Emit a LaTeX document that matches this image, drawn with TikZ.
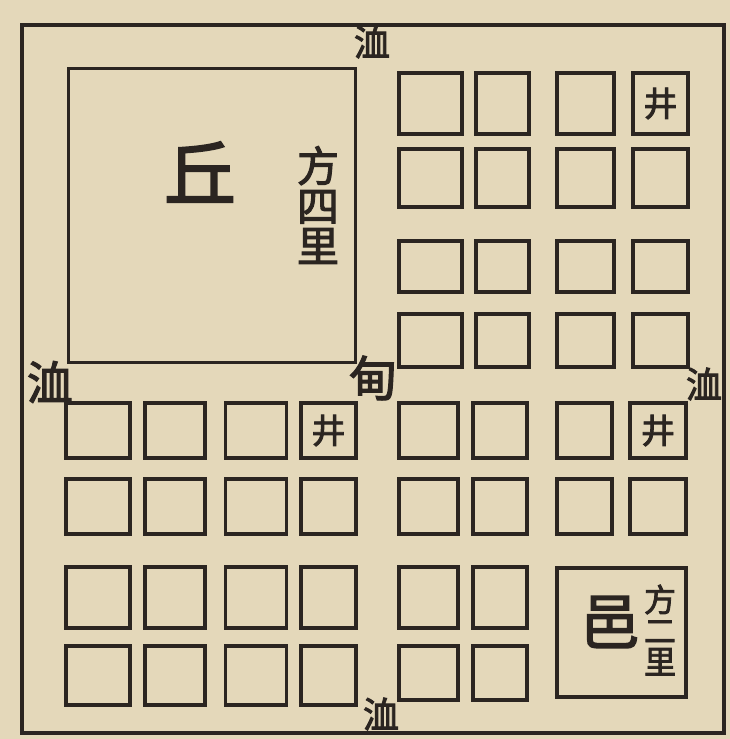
\documentclass[tikz,border=0pt]{standalone}
\usepackage{fontspec}
\newfontfamily\cjk[FakeBold=2.5]{Noto Sans CJK SC}
\usepackage{xcolor}
\usetikzlibrary{positioning}
\definecolor{paper}{HTML}{E4D8BA}
\definecolor{ink}{HTML}{2B2521}
\tikzstyle{plot} = [draw=ink,line width=3.3pt,rectangle,inner sep=0pt]
\tikzstyle{word} = [text=ink,inner sep=0pt,align=center]
\newcommand{\cjksize}[1]{\cjk\fontsize{#1}{#1}\selectfont}

\begin{document}
\begin{tikzpicture}[x=1pt,y=-1pt]
            % basics
            \fill[paper] (0,0) rectangle (730,739);
            \useasboundingbox (0,0) rectangle (730,739);
            \draw[ink,line width=3.2pt] (22,25) rectangle (724,733);
            % qiu and yi
            \node[plot,line width=3pt,minimum width=287pt,minimum height=294pt] (qiu) at (211.5,215) {};
            \node[plot,minimum width=129pt,minimum height=129pt] (yi) at (621.5,632.5) {};
            % upper right jing
            \foreach \c/\x/\w in {1/430.5/63,2/502.5/53,3/585.5/57,4/660.5/55}
              \foreach \r/\y/\h in {1/103.5/61,2/178/58,3/266.5/51,4/340.5/53}
                \node[plot,minimum width=\w pt,minimum height=\h pt] (u\r\c) at (\x,\y) {};
            % lower left jing
            \foreach \c/\x/\w in {1/98/64,2/175/60,3/256/61,4/328.5/55}
              \foreach \r/\y/\h in {1/430.5/55,2/506.5/55,3/597.5/61,4/675.5/59}
                \node[plot,minimum width=\w pt,minimum height=\h pt] (l\r\c) at (\x,\y) {};
            % lower right jing
            \foreach \c/\x/\w in {1/428.5/59,2/500/54,3/584.5/55,4/658/56}
              \foreach \r/\y/\h in {1/430.5/55,2/506.5/55}
                \node[plot,minimum width=\w pt,minimum height=\h pt] (r\r\c) at (\x,\y) {};
            \foreach \c/\x/\w in {1/428.5/59,2/500/54}
              \foreach \r/\y/\h in {3/597.5/61,4/673/54}
                \node[plot,minimum width=\w pt,minimum height=\h pt] (r\r\c) at (\x,\y) {};
            % labels
            \node[word,font=\cjksize{72}] (qiuname) at (200,172) {丘};
            \node[word,font=\cjksize{42}] (qiusize) at (318,205) {方\\[-2pt]四\\[-2pt]里};
            \node[word,font=\cjksize{60}] (yiname) at (610,622) {邑};
            \node[word,font=\cjksize{32}] (yisize) at (660,630) {方\\[-1pt]二\\[-1pt]里};
            \node[word,font=\cjksize{34}] at (u14) {井};
            \node[word,font=\cjksize{34}] at (l14) {井};
            \node[word,font=\cjksize{34}] at (r14) {井};
            \node[word,font=\cjksize{48}] (dian) at (373,378) {甸};
            \node[word,font=\cjksize{36}] (xutop) at (372,42) {洫};
            \node[word,font=\cjksize{46}] (xuleft) at (50,382) {洫};
            \node[word,font=\cjksize{36}] (xuright) at (704,384) {洫};
            \node[word,font=\cjksize{36}] (xubottom) at (381,714) {洫};
\end{tikzpicture}
\end{document}
